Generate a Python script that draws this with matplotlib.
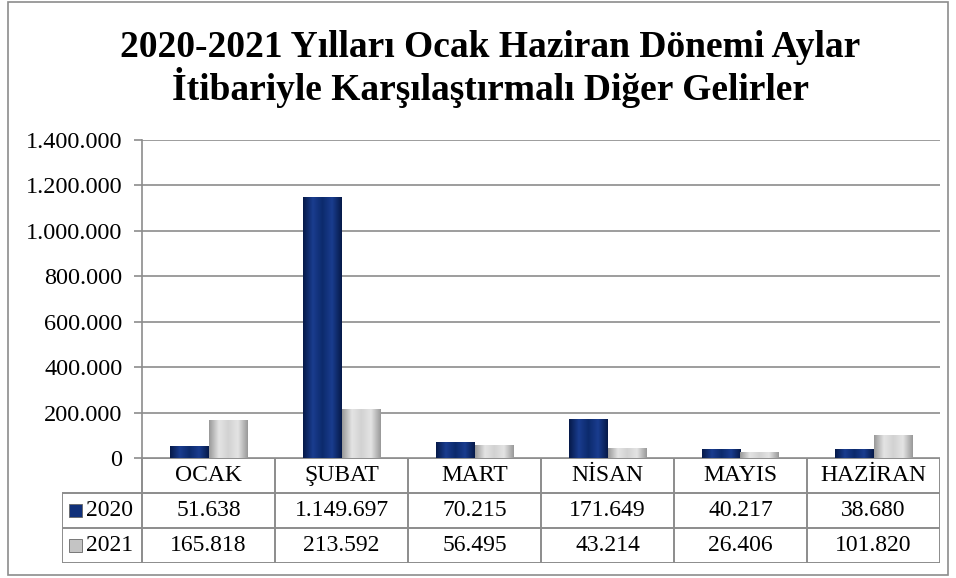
import numpy as np
import matplotlib
matplotlib.use("Agg")
from matplotlib import pyplot as plt
from matplotlib.patches import Rectangle
from matplotlib.colors import LinearSegmentedColormap

months = ['OCAK', 'ŞUBAT', 'MART', 'NİSAN', 'MAYIS', 'HAZİRAN']
series_names = ['2020', '2021']
values_2020 = [51638, 1149697, 70215, 171649, 40217, 38680]
values_2021 = [165818, 213592, 56495, 43214, 26406, 101820]
y_ticks = [0, 200000, 400000, 600000, 800000, 1000000, 1200000, 1400000]

title = '2020-2021 Yılları Ocak Haziran Dönemi Aylar\nİtibariyle Karşılaştırmalı Diğer Gelirler'

navy = '#10307a'
gray = '#c4c4c4'
line_gray = '#8c8c8c'

def tr_fmt(v):
    # turkish thousands separator
    return f'{v:,.0f}'.replace(',', '.')

plt.rcParams['font.family'] = ['Liberation Serif', 'DejaVu Serif']

W, H = 956, 578
fig = plt.figure(figsize=(W / 100, H / 100), dpi=100)

# outer frame
fig.patches.append(Rectangle((8 / W, 1 - 575 / H), 940 / W, 573 / H,
                             transform=fig.transFigure, fill=False,
                             edgecolor=line_gray, linewidth=1.2))

fig.text(490 / W, 1 - 69 / H, title, ha='center', va='center',
         fontsize=27, fontweight='bold', linespacing=1.05)

ax = fig.add_axes([142 / W, 1 - 458 / H, 798 / W, 318 / H])
x = np.arange(len(months))
bw = 0.29
b1 = ax.bar(x - bw / 2, values_2020, bw, color=navy)
b2 = ax.bar(x + bw / 2, values_2021, bw, color=gray)

cm_navy = LinearSegmentedColormap.from_list('n', ['#061a4a', '#1a3d8f', '#0c2a6c', '#1a3d8f', '#061a4a'])
cm_gray = LinearSegmentedColormap.from_list('g', ['#9a9a9a', '#e4e4e4', '#d2d2d2', '#e4e4e4', '#9a9a9a'])
grad = np.linspace(0, 1, 64).reshape(1, -1)
for bars, cm in ((b1, cm_navy), (b2, cm_gray)):
    for p in bars:
        x0, y0 = p.get_x(), p.get_y()
        im = ax.imshow(grad, cmap=cm, aspect='auto', zorder=3,
                       extent=(x0, x0 + p.get_width(), y0, y0 + p.get_height()))
        im.set_clip_path(p)

ax.set_xlim(-0.5, len(months) - 0.5)
ax.set_ylim(0, 1400000)
ax.set_yticks(y_ticks)
ax.set_yticklabels([tr_fmt(v) for v in y_ticks], fontsize=17.5)
ax.set_xticks([])
ax.grid(axis='y', color=line_gray, linewidth=1.2)
ax.set_axisbelow(True)
for s in ['top', 'right', 'bottom']:
    ax.spines[s].set_visible(False)
ax.spines['left'].set_color(line_gray)
ax.spines['left'].set_linewidth(1.2)
ax.tick_params(axis='y', length=6, color=line_gray, width=1.2, pad=8)

# data table under the plot
tab = fig.add_axes([62 / W, 1 - 563 / H, 878 / W, 105 / H])
ncol = len(months)
lab_w = 80 / 133
tab.set_xlim(-0.5 - lab_w, ncol - 0.5)
tab.set_ylim(3, 0)
tab.axis('off')
lk = dict(color=line_gray, linewidth=1.4, solid_capstyle='butt')
tab.plot([-0.5, ncol - 0.5], [0, 0], **lk)
for r in (1, 2, 3):
    tab.plot([-0.5 - lab_w, ncol - 0.5], [r, r], **lk)
for c in range(ncol + 1):
    tab.plot([c - 0.5, c - 0.5], [0, 3], **lk)
tab.plot([-0.5 - lab_w] * 2, [1, 3], **lk)

for i, m in enumerate(months):
    tab.text(i, 0.5, m, ha='center', va='center', fontsize=17)
for r, (vals, col) in enumerate(((values_2020, navy), (values_2021, gray))):
    for i, v in enumerate(vals):
        tab.text(i, 1.5 + r, tr_fmt(v), ha='center', va='center', fontsize=17)
    tab.add_patch(Rectangle((-0.5 - lab_w + 7 / 133, 1.5 + r - 0.2), 13 / 133, 0.38,
                            facecolor=col, edgecolor='#666666', linewidth=0.6))
    tab.text(-0.5 - lab_w + 24 / 133, 1.5 + r, series_names[r], ha='left',
             va='center', fontsize=17)

fig.savefig('out.png', dpi=100)
